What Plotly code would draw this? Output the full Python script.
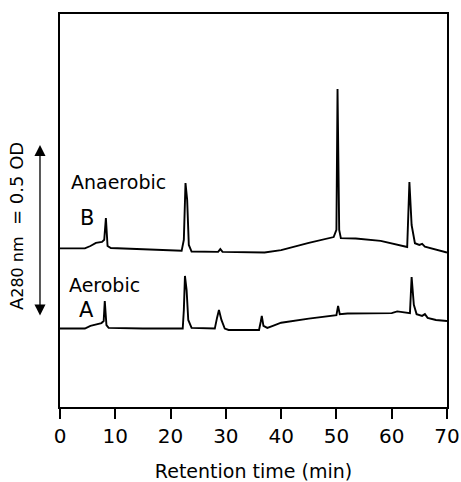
import plotly.graph_objects as go

# Retention time (min) and absorbance (OD, arbitrary offset) for each chromatogram
time_b = [0, 4.5, 5.5, 6.5, 7.6, 8.0, 8.3, 8.6, 9.2, 15, 22.0, 22.4, 22.7, 23.0, 23.3, 23.8,
          28.6, 29.0, 29.4, 37, 40, 45, 49.5, 50.0, 50.2, 50.5, 50.8, 53.5, 58, 62.8,
          63.2, 63.6, 64.2, 65.0, 65.5, 66.0, 67, 70]
abs_b = [0.461, 0.461, 0.468, 0.477, 0.480, 0.486, 0.549, 0.468, 0.462, 0.458, 0.454, 0.486,
         0.651, 0.602, 0.471, 0.452, 0.451, 0.459, 0.451, 0.449, 0.456, 0.477, 0.494, 0.515,
         0.924, 0.515, 0.491, 0.490, 0.483, 0.465, 0.654, 0.529, 0.476, 0.471, 0.474, 0.466,
         0.462, 0.449]

time_a = [0, 4.5, 5.5, 7.5, 7.9, 8.1, 8.4, 8.8, 15, 22.2, 22.4, 22.6, 22.9, 23.2, 23.8,
          28.0, 28.4, 28.75, 29.2, 29.8, 30.5, 36.0, 36.3, 36.5, 36.8, 37.5, 38.5, 40, 45,
          50.0, 50.3, 50.6, 52, 60, 61, 62, 63.3, 63.6, 64.0, 64.5, 65.5, 66.0, 66.5, 68, 70]
abs_a = [0.228, 0.228, 0.236, 0.244, 0.250, 0.308, 0.238, 0.230, 0.228, 0.228, 0.282,
         0.381, 0.340, 0.253, 0.230, 0.228, 0.259, 0.282, 0.253, 0.228, 0.224, 0.224, 0.247,
         0.265, 0.236, 0.230, 0.236, 0.245, 0.257, 0.267, 0.294, 0.270, 0.272, 0.273, 0.278,
         0.275, 0.273, 0.378, 0.297, 0.270, 0.265, 0.270, 0.259, 0.253, 0.250]

x_ticks = [0, 10, 20, 30, 40, 50, 60, 70]

FONT = "DejaVu Sans"

fig = go.Figure()
for t, a in [(time_b, abs_b), (time_a, abs_a)]:
    fig.add_trace(go.Scatter(x=t, y=a, mode="lines",
                             line=dict(color="black", width=1.9),
                             showlegend=False, hoverinfo="skip"))

fig.update_layout(
    width=461, height=482,
    margin=dict(l=60, r=14, t=14, b=75),
    paper_bgcolor="white", plot_bgcolor="white",
    font=dict(family=FONT, color="black"),
    xaxis=dict(range=[0, 70], tickvals=x_ticks, ticks="outside", ticklen=10,
               tickwidth=1.6, tickcolor="black", showline=True, linecolor="black",
               linewidth=1.8, mirror=True, showgrid=False, zeroline=False,
               automargin=False,
               tickfont=dict(size=20, family=FONT),
               title=dict(text="Retention time (min)", font=dict(size=19, family=FONT),
                          standoff=21)),
    yaxis=dict(range=[0, 1.1424], showticklabels=False, ticks="", showline=True,
               linecolor="black", linewidth=1.8, mirror=True, showgrid=False,
               zeroline=False, automargin=False),
)

# sample labels
labels = [("Anaerobic", 1.7, 0.655, 19), ("B", 3.3, 0.549, 21),
          ("Aerobic", 1.35, 0.355, 19), ("A", 3.0, 0.282, 21)]
for txt, x, y, s in labels:
    fig.add_annotation(x=x, y=y, xref="x", yref="y", text=txt, showarrow=False,
                       xanchor="left", yanchor="middle",
                       font=dict(size=s, family=FONT, color="black"))

# scale bar arrow: 0.5 OD
fig.add_annotation(x=-0.0517, y=0.7616, xref="paper", yref="y", text="",
                   showarrow=True, ax=0, ay=172, axref="pixel", ayref="pixel",
                   arrowside="end+start", arrowhead=2, arrowsize=1.7,
                   arrowwidth=1.3, arrowcolor="black")

fig.add_annotation(x=-0.1124, y=0.459, xref="paper", yref="paper",
                   text="A<span style='font-size:16px'>280 nm</span>  = 0.5 OD",
                   textangle=-90, showarrow=False, xanchor="center", yanchor="middle",
                   font=dict(size=18, family=FONT, color="black"))

fig.write_html("out.html", config={"displayModeBar": False},
               post_script="document.body.style.margin='0';document.body.style.overflow='hidden';")
